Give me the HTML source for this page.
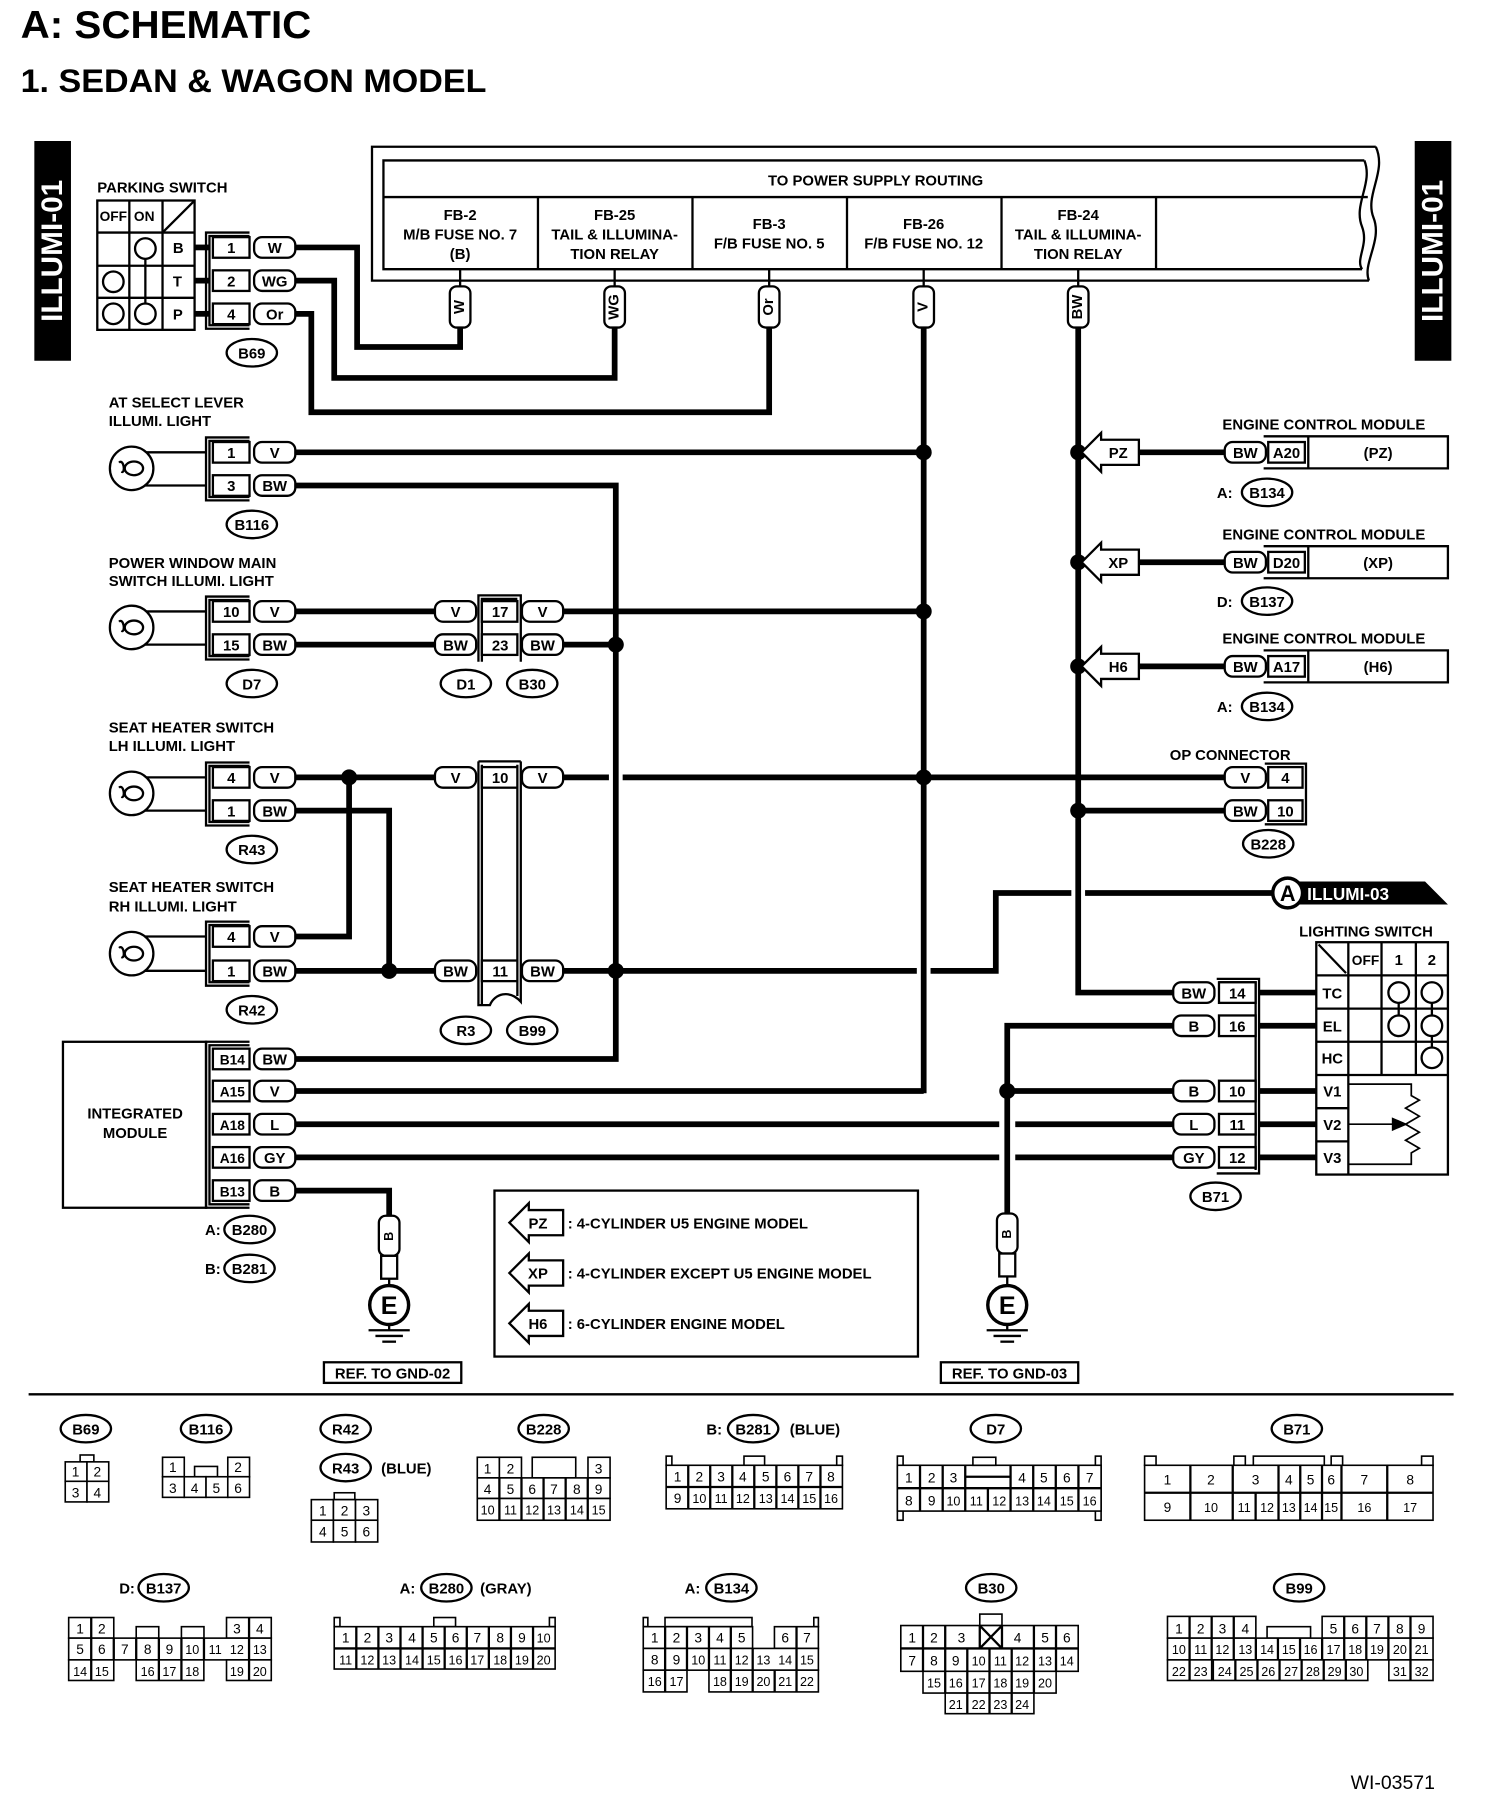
<!DOCTYPE html>
<html><head><meta charset="utf-8"><style>
html,body{margin:0;padding:0;background:#fff;}
svg{display:block;}
text{font-family:"Liberation Sans",Arial,sans-serif;fill:#000;}
.b{font-weight:bold;}
.w{stroke:#000;stroke-width:5;fill:none;}
.t{stroke:#000;stroke-width:2;fill:none;}
.f{stroke:#000;stroke-width:2;fill:#fff;}
.h{stroke:#000;stroke-width:1.4;fill:#fff;}
.l{font-size:13px;font-weight:bold;}
.p{font-size:12px;}
</style></head><body>
<svg width="1504" height="1794" viewBox="0 0 1314 1567" xmlns="http://www.w3.org/2000/svg">
<rect width="1314" height="1567" fill="#fff"/>
<text x="18" y="33" class="b" font-size="34" textLength="254" lengthAdjust="spacingAndGlyphs">A:  SCHEMATIC</text>
<text x="18" y="80" class="b" font-size="28" textLength="407" lengthAdjust="spacingAndGlyphs">1.  SEDAN &amp; WAGON MODEL</text>

<rect x="30" y="123" width="32" height="192" fill="#000"/>
<text x="46" y="219" transform="rotate(-90 46 219)" text-anchor="middle" dominant-baseline="central" style="fill:#fff" class="b" font-size="26">ILLUMI-01</text>
<rect x="1236" y="123" width="32" height="192" fill="#000"/>
<text x="1252" y="219" transform="rotate(-90 1252 219)" text-anchor="middle" dominant-baseline="central" style="fill:#fff" class="b" font-size="26">ILLUMI-01</text>

<path class="t" d="M1202,128 H325 V245 H1196"/>
<path class="t" d="M1192,140 H335 V235 H1190"/>
<path class="t" d="M1202,128 C1212,150 1192,170 1200,190 C1208,210 1190,230 1196,245"/>
<path class="t" d="M1192,140 C1200,160 1182,178 1190,198 C1196,214 1184,226 1190,235"/>
<line class="t" x1="335" y1="172" x2="1195" y2="172"/>
<line class="t" x1="470" y1="172" x2="470" y2="235"/>
<line class="t" x1="605" y1="172" x2="605" y2="235"/>
<line class="t" x1="740" y1="172" x2="740" y2="235"/>
<line class="t" x1="875" y1="172" x2="875" y2="235"/>
<line class="t" x1="1010" y1="172" x2="1010" y2="235"/>
<g class="l" text-anchor="middle">
<text x="765" y="162">TO POWER SUPPLY ROUTING</text>
<text x="402" y="192">FB-2</text><text x="402" y="209">M/B FUSE NO. 7</text><text x="402" y="226">(B)</text>
<text x="537" y="192">FB-25</text><text x="537" y="209">TAIL &amp; ILLUMINA-</text><text x="537" y="226">TION RELAY</text>
<text x="672" y="200">FB-3</text><text x="672" y="217">F/B FUSE NO. 5</text>
<text x="807" y="200">FB-26</text><text x="807" y="217">F/B FUSE NO. 12</text>
<text x="942" y="192">FB-24</text><text x="942" y="209">TAIL &amp; ILLUMINA-</text><text x="942" y="226">TION RELAY</text>
</g>
<g>
<line class="t" x1="402" y1="235" x2="402" y2="250"/><line class="t" x1="537" y1="235" x2="537" y2="250"/><line class="t" x1="672" y1="235" x2="672" y2="250"/><line class="t" x1="807" y1="235" x2="807" y2="250"/><line class="t" x1="942" y1="235" x2="942" y2="250"/>
<rect class="f" x="393" y="250" width="18" height="36" rx="6"/>
<rect class="f" x="528" y="250" width="18" height="36" rx="6"/>
<rect class="f" x="663" y="250" width="18" height="36" rx="6"/>
<rect class="f" x="798" y="250" width="18" height="36" rx="6"/>
<rect class="f" x="933" y="250" width="18" height="36" rx="6"/>
<g class="l" text-anchor="middle" font-size="12">
<text x="402" y="268" transform="rotate(-90 402 268)" dominant-baseline="central">W</text>
<text x="537" y="268" transform="rotate(-90 537 268)" dominant-baseline="central">WG</text>
<text x="672" y="268" transform="rotate(-90 672 268)" dominant-baseline="central">Or</text>
<text x="807" y="268" transform="rotate(-90 807 268)" dominant-baseline="central">V</text>
<text x="942" y="268" transform="rotate(-90 942 268)" dominant-baseline="central">BW</text>
</g></g>

<g class="w">
<polyline points="258,216 312,216 312,303 402,303 402,286"/>
<polyline points="258,245 292,245 292,330 537,330 537,286"/>
<polyline points="258,274 272,274 272,360 672,360 672,286"/>
<line x1="807" y1="286" x2="807" y2="955"/>
<polyline points="942,286 942,867 1025,867"/>
<line x1="258" y1="395" x2="807" y2="395"/>
<polyline points="258,424 538,424 538,925 258,925"/>
<line x1="258" y1="534" x2="380" y2="534"/><line x1="492" y1="534" x2="807" y2="534"/>
<line x1="258" y1="563" x2="380" y2="563"/><line x1="492" y1="563" x2="538" y2="563"/>
<line x1="258" y1="679" x2="380" y2="679"/><line x1="492" y1="679" x2="532" y2="679"/><line x1="544" y1="679" x2="1070" y2="679"/>
<polyline points="258,708 340,708 340,848 380,848"/>
<polyline points="258,818 305,818 305,679"/>
<line x1="258" y1="848" x2="340" y2="848"/>
<line x1="492" y1="848" x2="801" y2="848"/><polyline points="813,848 870,848 870,780 936,780"/><line x1="948" y1="780" x2="1112" y2="780"/>
<line x1="942" y1="708" x2="1070" y2="708"/>
<line x1="942" y1="395" x2="950" y2="395"/><line x1="995" y1="395" x2="1070" y2="395"/>
<line x1="942" y1="491" x2="950" y2="491"/><line x1="995" y1="491" x2="1070" y2="491"/>
<line x1="942" y1="582" x2="950" y2="582"/><line x1="995" y1="582" x2="1070" y2="582"/>
<line x1="258" y1="953" x2="807" y2="953"/>
<line x1="258" y1="982" x2="873" y2="982"/><line x1="887" y1="982" x2="1025" y2="982"/>
<line x1="258" y1="1011" x2="873" y2="1011"/><line x1="887" y1="1011" x2="1025" y2="1011"/>
<polyline points="258,1040 340,1040 340,1062"/>
<polyline points="1025,896 880,896 880,1060"/>
<line x1="880" y1="953" x2="1025" y2="953"/>
<line x1="1100" y1="867" x2="1150" y2="867"/><line x1="1100" y1="896" x2="1150" y2="896"/><line x1="1100" y1="953" x2="1150" y2="953"/><line x1="1100" y1="982" x2="1150" y2="982"/><line x1="1100" y1="1011" x2="1150" y2="1011"/>
<line x1="170" y1="216" x2="183" y2="216"/><line x1="170" y1="245" x2="183" y2="245"/><line x1="170" y1="274" x2="183" y2="274"/>
</g>
<g fill="#000">
<circle cx="807" cy="395" r="7"/><circle cx="807" cy="534" r="7"/><circle cx="807" cy="679" r="7"/>
<circle cx="942" cy="395" r="7"/><circle cx="942" cy="491" r="7"/><circle cx="942" cy="582" r="7"/><circle cx="942" cy="708" r="7"/>
<circle cx="538" cy="563" r="7"/><circle cx="538" cy="848" r="7"/>
<circle cx="305" cy="679" r="7"/><circle cx="340" cy="848" r="7"/><circle cx="880" cy="953" r="7"/>
</g>

<text x="85" y="168" class="l">PARKING SWITCH</text>
<g class="t">
<rect x="85" y="175" width="85" height="113"/>
<line x1="113" y1="175" x2="113" y2="288"/><line x1="142" y1="175" x2="142" y2="288"/>
<line x1="85" y1="203" x2="170" y2="203"/><line x1="85" y1="232" x2="170" y2="232"/><line x1="85" y1="260" x2="170" y2="260"/>
<line x1="142" y1="203" x2="170" y2="175"/>
<line x1="127" y1="217" x2="127" y2="274"/>
<circle class="f" cx="127" cy="217" r="9"/><circle class="f" cx="99" cy="246" r="9"/><circle class="f" cx="99" cy="274" r="9"/><circle class="f" cx="127" cy="274" r="9"/>
</g>
<g class="l"><text x="87" y="193" font-size="12">OFF</text><text x="117" y="193" font-size="12">ON</text>
<text x="151" y="221">B</text><text x="151" y="250">T</text><text x="151" y="279">P</text></g>

<g class="t">
<polyline points="218,203 180,203 180,287 218,287"/><polyline points="218,206 183,206 183,284 218,284"/>
<rect class="f" x="186" y="207" width="32" height="18"/><rect class="f" x="186" y="236" width="32" height="18"/><rect class="f" x="186" y="265" width="32" height="18"/>
<polyline points="218,382 180,382 180,437 218,437"/><polyline points="218,385 183,385 183,434 218,434"/>
<rect class="f" x="186" y="386" width="32" height="18"/><rect class="f" x="186" y="415" width="32" height="18"/>
<polyline points="218,521 180,521 180,576 218,576"/><polyline points="218,524 183,524 183,573 218,573"/>
<rect class="f" x="186" y="525" width="32" height="18"/><rect class="f" x="186" y="554" width="32" height="18"/>
<polyline points="218,666 180,666 180,721 218,721"/><polyline points="218,669 183,669 183,718 218,718"/>
<rect class="f" x="186" y="670" width="32" height="18"/><rect class="f" x="186" y="699" width="32" height="18"/>
<polyline points="218,805 180,805 180,861 218,861"/><polyline points="218,808 183,808 183,858 218,858"/>
<rect class="f" x="186" y="809" width="32" height="18"/><rect class="f" x="186" y="839" width="32" height="18"/>
<rect class="f" x="55" y="910" width="125" height="145"/>
<polyline points="218,910 180,910 180,1055 218,1055"/><polyline points="218,913 183,913 183,1052 218,1052"/>
<rect class="f" x="186" y="916" width="32" height="18"/><rect class="f" x="186" y="944" width="32" height="18"/><rect class="f" x="186" y="973" width="32" height="18"/><rect class="f" x="186" y="1002" width="32" height="18"/><rect class="f" x="186" y="1031" width="32" height="18"/>
</g>
<g class="l" text-anchor="middle">
<text x="202" y="221">1</text><text x="202" y="250">2</text><text x="202" y="279">4</text>
<text x="202" y="400">1</text><text x="202" y="429">3</text>
<text x="202" y="539">10</text><text x="202" y="568">15</text>
<text x="202" y="684">4</text><text x="202" y="713">1</text>
<text x="202" y="823">4</text><text x="202" y="853">1</text>
<text x="203" y="930" font-size="12">B14</text><text x="203" y="958" font-size="12">A15</text><text x="203" y="987" font-size="12">A18</text><text x="203" y="1016" font-size="12">A16</text><text x="203" y="1045" font-size="12">B13</text>
<text x="118" y="977">INTEGRATED</text><text x="118" y="994">MODULE</text>
</g>
<g class="f">
<rect x="222" y="207" width="36" height="18" rx="7"/><rect x="222" y="236" width="36" height="18" rx="7"/><rect x="222" y="265" width="36" height="18" rx="7"/>
<rect x="222" y="386" width="36" height="18" rx="7"/><rect x="222" y="415" width="36" height="18" rx="7"/>
<rect x="222" y="525" width="36" height="18" rx="7"/><rect x="222" y="554" width="36" height="18" rx="7"/>
<rect x="222" y="670" width="36" height="18" rx="7"/><rect x="222" y="699" width="36" height="18" rx="7"/>
<rect x="222" y="809" width="36" height="18" rx="7"/><rect x="222" y="839" width="36" height="18" rx="7"/>
<rect x="222" y="916" width="36" height="18" rx="7"/><rect x="222" y="944" width="36" height="18" rx="7"/><rect x="222" y="973" width="36" height="18" rx="7"/><rect x="222" y="1002" width="36" height="18" rx="7"/><rect x="222" y="1031" width="36" height="18" rx="7"/>
</g>
<g class="l" text-anchor="middle">
<text x="240" y="221">W</text><text x="240" y="250">WG</text><text x="240" y="279">Or</text>
<text x="240" y="400">V</text><text x="240" y="429">BW</text>
<text x="240" y="539">V</text><text x="240" y="568">BW</text>
<text x="240" y="684">V</text><text x="240" y="713">BW</text>
<text x="240" y="823">V</text><text x="240" y="853">BW</text>
<text x="240" y="930">BW</text><text x="240" y="958">V</text><text x="240" y="987">L</text><text x="240" y="1016">GY</text><text x="240" y="1045">B</text>
</g>
<g class="l">
<text x="95" y="356">AT SELECT LEVER</text><text x="95" y="372">ILLUMI. LIGHT</text>
<text x="95" y="496">POWER WINDOW MAIN</text><text x="95" y="512">SWITCH ILLUMI. LIGHT</text>
<text x="95" y="640">SEAT HEATER SWITCH</text><text x="95" y="656">LH ILLUMI. LIGHT</text>
<text x="95" y="779">SEAT HEATER SWITCH</text><text x="95" y="796">RH ILLUMI. LIGHT</text>
</g>
<g class="t">
<polyline points="115,391 115,395 180,395"/><polyline points="115,428 115,424 180,424"/>
<circle class="f" cx="115" cy="409" r="19"/><ellipse cx="117" cy="409" rx="8" ry="6"/><path d="M104,404 C108,400 110,414 106,412"/>
<line x1="115" y1="534" x2="180" y2="534"/><line x1="115" y1="563" x2="180" y2="563"/>
<circle class="f" cx="115" cy="548" r="19"/><ellipse cx="117" cy="548" rx="8" ry="6"/><path d="M104,543 C108,539 110,553 106,551"/>
<line x1="115" y1="679" x2="180" y2="679"/><line x1="115" y1="708" x2="180" y2="708"/>
<circle class="f" cx="115" cy="693" r="19"/><ellipse cx="117" cy="693" rx="8" ry="6"/><path d="M104,688 C108,684 110,698 106,696"/>
<line x1="115" y1="818" x2="180" y2="818"/><line x1="115" y1="848" x2="180" y2="848"/>
<circle class="f" cx="115" cy="833" r="19"/><ellipse cx="117" cy="833" rx="8" ry="6"/><path d="M104,828 C108,824 110,838 106,836"/>
</g>
<g class="t">
<ellipse cx="220" cy="308" rx="22" ry="12"/><ellipse cx="220" cy="458" rx="22" ry="12"/><ellipse cx="220" cy="597" rx="22" ry="12"/><ellipse cx="220" cy="742" rx="22" ry="12"/><ellipse cx="220" cy="882" rx="22" ry="12"/>
<ellipse cx="218" cy="1074" rx="22" ry="12"/><ellipse cx="218" cy="1108" rx="22" ry="12"/>
<ellipse cx="407" cy="597" rx="22" ry="12"/><ellipse cx="465" cy="597" rx="22" ry="12"/>
<ellipse cx="407" cy="900" rx="22" ry="12"/><ellipse cx="465" cy="900" rx="22" ry="12"/>
<ellipse cx="1107" cy="430" rx="22" ry="12"/><ellipse cx="1107" cy="525" rx="22" ry="12"/><ellipse cx="1107" cy="617" rx="22" ry="12"/>
<ellipse cx="1108" cy="737" rx="22" ry="12"/><ellipse cx="1062" cy="1045" rx="22" ry="12"/>
</g>
<g class="l" text-anchor="middle">
<text x="220" y="313">B69</text><text x="220" y="463">B116</text><text x="220" y="602">D7</text><text x="220" y="747">R43</text><text x="220" y="887">R42</text>
<text x="218" y="1079">B280</text><text x="218" y="1113">B281</text><text x="186" y="1079">A:</text><text x="186" y="1113">B:</text>
<text x="407" y="602">D1</text><text x="465" y="602">B30</text><text x="407" y="905">R3</text><text x="465" y="905">B99</text>
<text x="1107" y="435">B134</text><text x="1107" y="530">B137</text><text x="1107" y="622">B134</text>
<text x="1070" y="435">A:</text><text x="1070" y="530">D:</text><text x="1070" y="622">A:</text>
<text x="1108" y="742">B228</text><text x="1062" y="1050">B71</text>
</g>

<g class="t">
<rect class="f" x="380" y="525" width="36" height="18" rx="7"/><rect class="f" x="380" y="554" width="36" height="18" rx="7"/>
<rect class="f" x="456" y="525" width="36" height="18" rx="7"/><rect class="f" x="456" y="554" width="36" height="18" rx="7"/>
<polyline points="418,578 418,520 455,520 455,578"/><polyline points="421,578 421,523 452,523"/>
<rect class="f" x="421" y="525" width="31" height="18"/><rect class="f" x="421" y="554" width="31" height="18"/>
<rect class="f" x="380" y="670" width="36" height="18" rx="7"/><rect class="f" x="380" y="839" width="36" height="18" rx="7"/>
<rect class="f" x="456" y="670" width="36" height="18" rx="7"/><rect class="f" x="456" y="839" width="36" height="18" rx="7"/>
<path d="M418,665 H455 M418,665 V878 H428 C432,868 445,864 455,875 V665"/><path d="M421,668 V878 M452,668 V870"/>
<rect class="f" x="421" y="670" width="31" height="18"/><rect class="f" x="421" y="839" width="31" height="18"/>
</g>
<g class="l" text-anchor="middle">
<text x="398" y="539">V</text><text x="398" y="568">BW</text><text x="437" y="539">17</text><text x="437" y="568">23</text><text x="474" y="539">V</text><text x="474" y="568">BW</text>
<text x="398" y="684">V</text><text x="398" y="853">BW</text><text x="437" y="684">10</text><text x="437" y="853">11</text><text x="474" y="684">V</text><text x="474" y="853">BW</text>
</g>

<g class="t">
<polygon class="f" points="945,395 962,378 962,384 995,384 995,406 962,406 962,412"/>
<polygon class="f" points="945,491 962,474 962,480 995,480 995,502 962,502 962,508"/>
<polygon class="f" points="945,582 962,565 962,571 995,571 995,593 962,593 962,599"/>
<rect class="f" x="1070" y="386" width="36" height="18" rx="7"/><rect class="f" x="1108" y="386" width="32" height="18"/><polyline points="1104,381 1265,381 1265,409 1104,409"/><line x1="1143" y1="381" x2="1143" y2="409"/>
<rect class="f" x="1070" y="482" width="36" height="18" rx="7"/><rect class="f" x="1108" y="482" width="32" height="18"/><polyline points="1104,477 1265,477 1265,505 1104,505"/><line x1="1143" y1="477" x2="1143" y2="505"/>
<rect class="f" x="1070" y="573" width="36" height="18" rx="7"/><rect class="f" x="1108" y="573" width="32" height="18"/><polyline points="1104,568 1265,568 1265,596 1104,596"/><line x1="1143" y1="568" x2="1143" y2="596"/>
</g>
<g class="l">
<text x="1068" y="375">ENGINE CONTROL MODULE</text><text x="1068" y="471">ENGINE CONTROL MODULE</text><text x="1068" y="562">ENGINE CONTROL MODULE</text>
<g text-anchor="middle">
<text x="977" y="400">PZ</text><text x="977" y="496">XP</text><text x="977" y="587">H6</text>
<text x="1088" y="400">BW</text><text x="1124" y="400">A20</text><text x="1204" y="400">(PZ)</text>
<text x="1088" y="496">BW</text><text x="1124" y="496">D20</text><text x="1204" y="496">(XP)</text>
<text x="1088" y="587">BW</text><text x="1124" y="587">A17</text><text x="1204" y="587">(H6)</text>
</g></g>

<text x="1022" y="664" class="l">OP CONNECTOR</text>
<g class="t">
<rect class="f" x="1070" y="670" width="36" height="18" rx="7"/><rect class="f" x="1070" y="699" width="36" height="18" rx="7"/>
<rect class="f" x="1108" y="670" width="30" height="18"/><rect class="f" x="1108" y="699" width="30" height="18"/>
<polyline points="1105,667 1141,667 1141,720 1105,720"/>
</g>
<g class="l" text-anchor="middle"><text x="1088" y="684">V</text><text x="1088" y="713">BW</text><text x="1123" y="684">4</text><text x="1123" y="713">10</text></g>

<polygon points="1125,770 1245,770 1265,790 1125,790" fill="#000"/>
<circle cx="1125" cy="780" r="13" fill="#fff" stroke="#000" stroke-width="3"/>
<text x="1125" y="787" text-anchor="middle" class="b" font-size="19">A</text>
<text x="1142" y="786" style="fill:#fff" class="b" font-size="15">ILLUMI-03</text>

<text x="1135" y="818" class="l">LIGHTING SWITCH</text>
<g class="t">
<rect x="1150" y="823" width="115" height="203"/>
<line x1="1150" y1="852" x2="1265" y2="852"/><line x1="1150" y1="881" x2="1265" y2="881"/><line x1="1150" y1="910" x2="1265" y2="910"/><line x1="1150" y1="939" x2="1265" y2="939"/>
<line x1="1150" y1="968" x2="1178" y2="968"/><line x1="1150" y1="997" x2="1178" y2="997"/>
<line x1="1178" y1="823" x2="1178" y2="1026"/><line x1="1207" y1="823" x2="1207" y2="939"/><line x1="1237" y1="823" x2="1237" y2="939"/>
<line x1="1152" y1="825" x2="1176" y2="850"/>
<line x1="1222" y1="867" x2="1222" y2="896"/><line x1="1251" y1="867" x2="1251" y2="924"/>
<circle class="f" cx="1222" cy="867" r="9"/><circle class="f" cx="1251" cy="867" r="9"/><circle class="f" cx="1222" cy="896" r="9"/><circle class="f" cx="1251" cy="896" r="9"/><circle class="f" cx="1251" cy="924" r="9"/>
<polyline stroke-width="1.5" points="1178,947 1233,947 1233,957 1240,961 1228,968 1240,975 1228,982 1240,989 1228,996 1240,1003 1233,1007 1233,1017 1178,1017"/>
<line stroke-width="1.5" x1="1178" y1="982" x2="1222" y2="982"/>
</g>
<polygon points="1230,982 1216,976 1216,988" fill="#000"/>
<g class="l" text-anchor="middle">
<text x="1193" y="843" font-size="12">OFF</text><text x="1222" y="843">1</text><text x="1251" y="843">2</text>
<text x="1164" y="872">TC</text><text x="1164" y="901">EL</text><text x="1164" y="929">HC</text><text x="1164" y="958">V1</text><text x="1164" y="987">V2</text><text x="1164" y="1016">V3</text>
</g>
<g class="t">
<rect class="f" x="1025" y="858" width="36" height="18" rx="7"/><rect class="f" x="1025" y="887" width="36" height="18" rx="7"/><rect class="f" x="1025" y="944" width="36" height="18" rx="7"/><rect class="f" x="1025" y="973" width="36" height="18" rx="7"/><rect class="f" x="1025" y="1002" width="36" height="18" rx="7"/>
<polyline points="1063,855 1100,855 1100,1025 1063,1025"/><polyline points="1065,858 1097,858 1097,1022"/>
<rect class="f" x="1065" y="858" width="32" height="18"/><rect class="f" x="1065" y="887" width="32" height="18"/><rect class="f" x="1065" y="944" width="32" height="18"/><rect class="f" x="1065" y="973" width="32" height="18"/><rect class="f" x="1065" y="1002" width="32" height="18"/>
</g>
<g class="l" text-anchor="middle">
<text x="1043" y="872">BW</text><text x="1043" y="901">B</text><text x="1043" y="958">B</text><text x="1043" y="987">L</text><text x="1043" y="1016">GY</text>
<text x="1081" y="872">14</text><text x="1081" y="901">16</text><text x="1081" y="958">10</text><text x="1081" y="987">11</text><text x="1081" y="1016">12</text>
</g>

<g class="t">
<rect class="f" x="331" y="1062" width="18" height="35" rx="6"/><rect class="f" x="333" y="1097" width="14" height="20"/>
<line x1="340" y1="1117" x2="340" y2="1123"/><circle cx="340" cy="1140" r="17" stroke-width="3"/>
<line x1="340" y1="1157" x2="340" y2="1162"/><line x1="322" y1="1162" x2="358" y2="1162"/><line x1="328" y1="1167" x2="352" y2="1167"/><line x1="334" y1="1172" x2="346" y2="1172"/>
<rect x="283" y="1190" width="120" height="18"/>
<rect class="f" x="871" y="1060" width="18" height="35" rx="6"/><rect class="f" x="873" y="1095" width="14" height="20"/>
<line x1="880" y1="1115" x2="880" y2="1123"/><circle cx="880" cy="1140" r="17" stroke-width="3"/>
<line x1="880" y1="1157" x2="880" y2="1162"/><line x1="862" y1="1162" x2="898" y2="1162"/><line x1="868" y1="1167" x2="892" y2="1167"/><line x1="874" y1="1172" x2="886" y2="1172"/>
<rect x="822" y="1190" width="120" height="18"/>
</g>
<g class="l" text-anchor="middle">
<text x="340" y="1080" transform="rotate(-90 340 1080)" dominant-baseline="central" font-size="11">B</text>
<text x="880" y="1078" transform="rotate(-90 880 1078)" dominant-baseline="central" font-size="11">B</text>
<text x="340" y="1148" font-size="22">E</text><text x="880" y="1148" font-size="22">E</text>
<text x="343" y="1204">REF. TO GND-02</text><text x="882" y="1204">REF. TO GND-03</text>
</g>

<g class="t">
<rect x="432" y="1040" width="370" height="145"/>
<polygon class="f" points="445,1068 462,1051 462,1057 492,1057 492,1079 462,1079 462,1085"/>
<polygon class="f" points="445,1112 462,1095 462,1101 492,1101 492,1123 462,1123 462,1129"/>
<polygon class="f" points="445,1156 462,1139 462,1145 492,1145 492,1167 462,1167 462,1173"/>
</g>
<g class="l">
<text x="470" y="1073" text-anchor="middle">PZ</text><text x="470" y="1117" text-anchor="middle">XP</text><text x="470" y="1161" text-anchor="middle">H6</text>
<text x="496" y="1073">: 4-CYLINDER U5 ENGINE MODEL</text>
<text x="496" y="1117">: 4-CYLINDER EXCEPT U5 ENGINE MODEL</text>
<text x="496" y="1161">: 6-CYLINDER ENGINE MODEL</text>
</g>

<line x1="25" y1="1218" x2="1270" y2="1218" stroke="#000" stroke-width="2"/>

<g class="t">
<ellipse cx="75" cy="1248" rx="22" ry="12"/><ellipse cx="180" cy="1248" rx="22" ry="12"/><ellipse cx="302" cy="1248" rx="22" ry="12"/><ellipse cx="302" cy="1282" rx="22" ry="12"/>
<ellipse cx="475" cy="1248" rx="22" ry="12"/><ellipse cx="658" cy="1248" rx="22" ry="12"/><ellipse cx="870" cy="1248" rx="22" ry="12"/><ellipse cx="1133" cy="1248" rx="22" ry="12"/>
<ellipse cx="143" cy="1387" rx="22" ry="12"/><ellipse cx="390" cy="1387" rx="22" ry="12"/><ellipse cx="639" cy="1387" rx="22" ry="12"/><ellipse cx="866" cy="1387" rx="22" ry="12"/><ellipse cx="1135" cy="1387" rx="22" ry="12"/>
</g>
<g class="l" text-anchor="middle">
<text x="75" y="1253">B69</text><text x="180" y="1253">B116</text><text x="302" y="1253">R42</text><text x="302" y="1287">R43</text><text x="355" y="1287">(BLUE)</text>
<text x="475" y="1253">B228</text><text x="624" y="1253">B:</text><text x="658" y="1253">B281</text><text x="712" y="1253">(BLUE)</text><text x="870" y="1253">D7</text><text x="1133" y="1253">B71</text>
<text x="111" y="1392">D:</text><text x="143" y="1392">B137</text>
<text x="356" y="1392">A:</text><text x="390" y="1392">B280</text><text x="442" y="1392">(GRAY)</text>
<text x="605" y="1392">A:</text><text x="639" y="1392">B134</text>
<text x="866" y="1392">B30</text><text x="1135" y="1392">B99</text>
</g>

<g class="h">
<rect x="70" y="1271" width="12" height="6"/>
<rect x="57" y="1277" width="19" height="17"/><rect x="76" y="1277" width="19" height="17"/><rect x="57" y="1294" width="19" height="18"/><rect x="76" y="1294" width="19" height="18"/>
<rect x="142" y="1273" width="19" height="17"/><rect x="199" y="1273" width="19" height="17"/><rect x="170" y="1281" width="20" height="9"/>
<rect x="142" y="1290" width="19" height="18"/><rect x="161" y="1290" width="19" height="18"/><rect x="180" y="1290" width="19" height="18"/><rect x="199" y="1290" width="19" height="18"/>
<rect x="292" y="1304" width="18" height="6"/>
<rect x="272" y="1310" width="19.3" height="18"/><rect x="291.3" y="1310" width="19.3" height="18"/><rect x="310.6" y="1310" width="19.4" height="18"/>
<rect x="272" y="1328" width="19.3" height="19"/><rect x="291.3" y="1328" width="19.3" height="19"/><rect x="310.6" y="1328" width="19.4" height="19"/>
<rect x="417" y="1273" width="19.3" height="18"/><rect x="436.3" y="1273" width="19.3" height="18"/><rect x="465" y="1273" width="38" height="18"/><rect x="513.7" y="1273" width="19.3" height="18"/>
<rect x="417" y="1291" width="116" height="18"/><rect x="417" y="1309" width="116" height="19"/>
</g>
<g class="t" stroke-width="1.4">
<path d="M436.3,1291V1328M455.6,1291V1328M474.9,1291V1328M494.2,1291V1328M513.5,1291V1328"/>
</g>

<g class="p" text-anchor="middle">
<text x="66" y="1290">1</text><text x="85" y="1290">2</text><text x="66" y="1308">3</text><text x="85" y="1308">4</text>
<text x="151" y="1286">1</text><text x="208" y="1286">2</text><text x="151" y="1304">3</text><text x="170" y="1304">4</text><text x="189" y="1304">5</text><text x="208" y="1304">6</text>
<text x="282" y="1324">1</text><text x="301" y="1324">2</text><text x="320" y="1324">3</text><text x="282" y="1342">4</text><text x="301" y="1342">5</text><text x="320" y="1342">6</text>
<text x="426" y="1287">1</text><text x="446" y="1287">2</text><text x="523" y="1287">3</text>
<text x="426" y="1305">4</text><text x="446" y="1305">5</text><text x="465" y="1305">6</text><text x="484" y="1305">7</text><text x="504" y="1305">8</text><text x="523" y="1305">9</text>
<text x="426" y="1323" font-size="11">10</text><text x="446" y="1323" font-size="11">11</text><text x="465" y="1323" font-size="11">12</text><text x="484" y="1323" font-size="11">13</text><text x="504" y="1323" font-size="11">14</text><text x="523" y="1323" font-size="11">15</text>
</g>

<g class="h">
<rect x="582" y="1272" width="5" height="8"/><rect x="731" y="1272" width="5" height="8"/><rect x="650" y="1272" width="18" height="8"/>
<rect x="582" y="1280" width="154" height="38"/>
</g>
<path class="t" stroke-width="1.4" d="M582,1299H736M601.3,1280V1318M620.5,1280V1318M639.8,1280V1318M659,1280V1318M678.3,1280V1318M697.5,1280V1318M716.8,1280V1318"/>
<g class="p" text-anchor="middle">
<text x="592" y="1294">1</text><text x="611" y="1294">2</text><text x="630" y="1294">3</text><text x="649" y="1294">4</text><text x="669" y="1294">5</text><text x="688" y="1294">6</text><text x="707" y="1294">7</text><text x="726" y="1294">8</text>
<text x="592" y="1313">9</text><text x="611" y="1313" font-size="11">10</text><text x="630" y="1313" font-size="11">11</text><text x="649" y="1313" font-size="11">12</text><text x="669" y="1313" font-size="11">13</text><text x="688" y="1313" font-size="11">14</text><text x="707" y="1313" font-size="11">15</text><text x="726" y="1313" font-size="11">16</text>
</g>

<g class="h">
<rect x="784" y="1272" width="5" height="56"/><rect x="957" y="1272" width="5" height="56"/>
<rect x="784" y="1280" width="178" height="40"/><rect x="850" y="1273" width="20" height="7"/>
</g>
<path class="t" stroke-width="1.4" d="M784,1300H962M803.8,1280V1320M823.6,1280V1320M843.3,1280V1320M863.1,1300V1320M882.9,1280V1320M902.7,1280V1320M922.4,1280V1320M942.2,1280V1320M843.3,1290H882.9"/>
<g class="p" text-anchor="middle">
<text x="794" y="1295">1</text><text x="814" y="1295">2</text><text x="833" y="1295">3</text><text x="893" y="1295">4</text><text x="912" y="1295">5</text><text x="932" y="1295">6</text><text x="952" y="1295">7</text>
<text x="794" y="1315">8</text><text x="814" y="1315">9</text><text x="833" y="1315" font-size="11">10</text><text x="853" y="1315" font-size="11">11</text><text x="873" y="1315" font-size="11">12</text><text x="893" y="1315" font-size="11">13</text><text x="912" y="1315" font-size="11">14</text><text x="932" y="1315" font-size="11">15</text><text x="952" y="1315" font-size="11">16</text>
</g>

<g class="h">
<rect x="1000" y="1272" width="10" height="8"/><rect x="1078" y="1272" width="10" height="8"/><rect x="1163" y="1272" width="10" height="8"/><rect x="1242" y="1272" width="10" height="8"/><rect x="1095" y="1272" width="62" height="8"/>
<rect x="1000" y="1280" width="252" height="48"/>
</g>
<path class="t" stroke-width="1.4" d="M1000,1304H1252M1040,1280V1328M1077,1280V1328M1117,1280V1328M1136,1280V1328M1155,1280V1328M1172,1280V1328M1212,1280V1328M1097,1304V1328"/>
<g class="p" text-anchor="middle">
<text x="1020" y="1297">1</text><text x="1058" y="1297">2</text><text x="1097" y="1297">3</text><text x="1126" y="1297">4</text><text x="1145" y="1297">5</text><text x="1163" y="1297">6</text><text x="1192" y="1297">7</text><text x="1232" y="1297">8</text>
<text x="1020" y="1321">9</text><text x="1058" y="1321" font-size="11">10</text><text x="1087" y="1321" font-size="11">11</text><text x="1107" y="1321" font-size="11">12</text><text x="1126" y="1321" font-size="11">13</text><text x="1145" y="1321" font-size="11">14</text><text x="1163" y="1321" font-size="11">15</text><text x="1192" y="1321" font-size="11">16</text><text x="1232" y="1321" font-size="11">17</text>
</g>

<g class="h">
<rect x="60" y="1413" width="39.4" height="18"/><rect x="197.9" y="1413" width="39.1" height="18"/>
<rect x="119" y="1421" width="19.7" height="10"/><rect x="158.5" y="1421" width="19.7" height="10"/>
<rect x="60" y="1431" width="177" height="19"/>
<rect x="60" y="1450" width="39.4" height="18"/><rect x="119" y="1450" width="59.1" height="18"/><rect x="197.9" y="1450" width="39.1" height="18"/>
</g>
<path class="t" stroke-width="1.4" d="M79.7,1413V1468M99.4,1431V1450M119,1431V1450M138.8,1431V1468M158.5,1431V1468M178.2,1431V1450M217.6,1413V1468"/>
<g class="p" text-anchor="middle">
<text x="70" y="1427">1</text><text x="89" y="1427">2</text><text x="207" y="1427">3</text><text x="227" y="1427">4</text>
<text x="70" y="1445">5</text><text x="89" y="1445">6</text><text x="109" y="1445">7</text><text x="129" y="1445">8</text><text x="148" y="1445">9</text><text x="168" y="1445" font-size="11">10</text><text x="188" y="1445" font-size="11">11</text><text x="207" y="1445" font-size="11">12</text><text x="227" y="1445" font-size="11">13</text>
<text x="70" y="1464" font-size="11">14</text><text x="89" y="1464" font-size="11">15</text><text x="129" y="1464" font-size="11">16</text><text x="148" y="1464" font-size="11">17</text><text x="168" y="1464" font-size="11">18</text><text x="207" y="1464" font-size="11">19</text><text x="227" y="1464" font-size="11">20</text>
</g>

<g class="h">
<rect x="292" y="1413" width="5" height="8"/><rect x="480" y="1413" width="5" height="8"/><rect x="379" y="1413" width="19" height="8"/>
<rect x="292" y="1421" width="193" height="37"/>
</g>
<path class="t" stroke-width="1.4" d="M292,1440H485M311.3,1421V1458M330.6,1421V1458M349.9,1421V1458M369.2,1421V1458M388.5,1421V1458M407.8,1421V1458M427.1,1421V1458M446.4,1421V1458M465.7,1421V1458"/>
<g class="p" text-anchor="middle">
<text x="302" y="1435">1</text><text x="321" y="1435">2</text><text x="340" y="1435">3</text><text x="360" y="1435">4</text><text x="379" y="1435">5</text><text x="398" y="1435">6</text><text x="417" y="1435">7</text><text x="437" y="1435">8</text><text x="456" y="1435">9</text><text x="475" y="1435" font-size="11">10</text>
<text x="302" y="1454" font-size="11">11</text><text x="321" y="1454" font-size="11">12</text><text x="340" y="1454" font-size="11">13</text><text x="360" y="1454" font-size="11">14</text><text x="379" y="1454" font-size="11">15</text><text x="398" y="1454" font-size="11">16</text><text x="417" y="1454" font-size="11">17</text><text x="437" y="1454" font-size="11">18</text><text x="456" y="1454" font-size="11">19</text><text x="475" y="1454" font-size="11">20</text>
</g>

<g class="h">
<rect x="562" y="1413" width="4" height="8"/><rect x="711" y="1413" width="4" height="8"/><rect x="581" y="1413" width="76" height="8"/>
<rect x="562" y="1421" width="95.5" height="19"/><rect x="676.6" y="1421" width="38.4" height="19"/>
<rect x="562" y="1440" width="153" height="19"/>
<rect x="562" y="1459" width="38.2" height="19"/><rect x="619.4" y="1459" width="95.6" height="19"/>
</g>
<path class="t" stroke-width="1.4" d="M581.1,1421V1478M600.2,1421V1459M619.4,1421V1459M638.5,1421V1478M657.6,1440V1478M676.8,1459V1478M695.9,1421V1478"/>
<g class="p" text-anchor="middle">
<text x="572" y="1435">1</text><text x="591" y="1435">2</text><text x="610" y="1435">3</text><text x="629" y="1435">4</text><text x="648" y="1435">5</text><text x="686" y="1435">6</text><text x="705" y="1435">7</text>
<text x="572" y="1454">8</text><text x="591" y="1454">9</text><text x="610" y="1454" font-size="11">10</text><text x="629" y="1454" font-size="11">11</text><text x="648" y="1454" font-size="11">12</text><text x="667" y="1454" font-size="11">13</text><text x="686" y="1454" font-size="11">14</text><text x="705" y="1454" font-size="11">15</text>
<text x="572" y="1473" font-size="11">16</text><text x="591" y="1473" font-size="11">17</text><text x="629" y="1473" font-size="11">18</text><text x="648" y="1473" font-size="11">19</text><text x="667" y="1473" font-size="11">20</text><text x="686" y="1473" font-size="11">21</text><text x="705" y="1473" font-size="11">22</text>
</g>

<g class="h">
<rect x="856" y="1410" width="19.4" height="10"/>
<rect x="787" y="1420" width="155" height="40"/>
<rect x="806.4" y="1460" width="116.3" height="19"/>
<rect x="825.8" y="1479" width="77.5" height="18"/>
</g>
<path class="t" stroke-width="1.4" d="M787,1440H942M806.4,1420V1460M825.8,1420V1479M845.1,1440V1497M856,1420V1440M875.4,1420V1440M864.5,1440V1497M883.9,1440V1497M903.3,1440V1479M922.6,1420V1460M856,1420L875.4,1440M875.4,1420L856,1440M903.3,1420V1440"/>
<g class="p" text-anchor="middle">
<text x="797" y="1435">1</text><text x="816" y="1435">2</text><text x="840" y="1435">3</text><text x="889" y="1435">4</text><text x="913" y="1435">5</text><text x="932" y="1435">6</text>
<text x="797" y="1455">7</text><text x="816" y="1455">8</text><text x="835" y="1455">9</text><text x="855" y="1455" font-size="11">10</text><text x="874" y="1455" font-size="11">11</text><text x="893" y="1455" font-size="11">12</text><text x="913" y="1455" font-size="11">13</text><text x="932" y="1455" font-size="11">14</text>
<text x="816" y="1474" font-size="11">15</text><text x="835" y="1474" font-size="11">16</text><text x="855" y="1474" font-size="11">17</text><text x="874" y="1474" font-size="11">18</text><text x="893" y="1474" font-size="11">19</text><text x="913" y="1474" font-size="11">20</text>
<text x="835" y="1493" font-size="11">21</text><text x="855" y="1493" font-size="11">22</text><text x="874" y="1493" font-size="11">23</text><text x="893" y="1493" font-size="11">24</text>
</g>

<g class="h">
<rect x="1020" y="1412" width="77.2" height="19"/><rect x="1155.1" y="1412" width="96.9" height="19"/><rect x="1107" y="1421" width="38" height="10"/>
<rect x="1020" y="1431" width="232" height="19"/>
<rect x="1020" y="1450" width="38.6" height="18"/><rect x="1060" y="1450" width="135" height="18"/><rect x="1213.4" y="1450" width="38.6" height="18"/>
</g>
<path class="t" stroke-width="1.4" d="M1039.3,1412V1468M1058.6,1412V1450M1077.9,1412V1450M1097.2,1431V1450M1116.5,1431V1450M1135.8,1431V1450M1155.1,1431V1450M1174.4,1412V1450M1193.7,1412V1450M1213,1412V1450M1232.3,1412V1468M1079.3,1450V1468M1098.6,1450V1468M1117.9,1450V1468M1137.2,1450V1468M1156.5,1450V1468M1175.8,1450V1468"/>
<g class="p" text-anchor="middle">
<text x="1030" y="1427">1</text><text x="1049" y="1427">2</text><text x="1068" y="1427">3</text><text x="1088" y="1427">4</text><text x="1165" y="1427">5</text><text x="1184" y="1427">6</text><text x="1203" y="1427">7</text><text x="1223" y="1427">8</text><text x="1242" y="1427">9</text>
<g font-size="11"><text x="1030" y="1445">10</text><text x="1049" y="1445">11</text><text x="1068" y="1445">12</text><text x="1088" y="1445">13</text><text x="1107" y="1445">14</text><text x="1126" y="1445">15</text><text x="1145" y="1445">16</text><text x="1165" y="1445">17</text><text x="1184" y="1445">18</text><text x="1203" y="1445">19</text><text x="1223" y="1445">20</text><text x="1242" y="1445">21</text>
<text x="1030" y="1464">22</text><text x="1049" y="1464">23</text><text x="1070" y="1464">24</text><text x="1089" y="1464">25</text><text x="1108" y="1464">26</text><text x="1128" y="1464">27</text><text x="1147" y="1464">28</text><text x="1166" y="1464">29</text><text x="1185" y="1464">30</text><text x="1223" y="1464">31</text><text x="1242" y="1464">32</text></g>
</g>

<text x="1180" y="1563" font-size="17">WI-03571</text>
</svg>
</body></html>
